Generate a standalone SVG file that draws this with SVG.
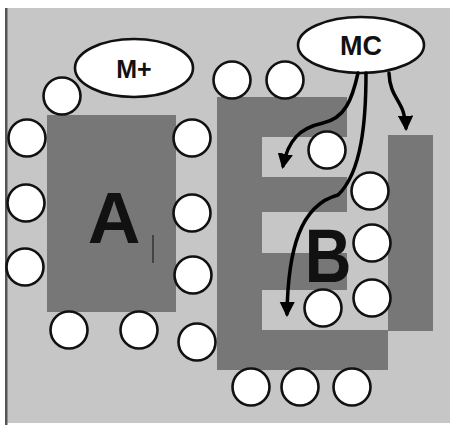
<svg xmlns="http://www.w3.org/2000/svg" width="450" height="425" viewBox="0 0 450 425">
<defs>
<style>
.bg{fill:#c6c6c6}
.blk{fill:#777777}
.c{fill:#ffffff;stroke:#111111;stroke-width:2.6}
.e{fill:#ffffff;stroke:#111111;stroke-width:2.6}
.lbl{font-family:"Liberation Sans",Arial,sans-serif;font-weight:bold;fill:#111111;text-anchor:middle}
.arr{fill:none;stroke:#000000;stroke-width:3.5;stroke-linecap:round}
</style>
<marker id="ah" viewBox="0 0 10 10" refX="8" refY="5" markerWidth="4.4" markerHeight="4.4" orient="auto" markerUnits="strokeWidth">
<path d="M0,0 L10,5 L0,10 z" fill="#000000"/>
</marker>
</defs>
<rect x="0" y="0" width="450" height="425" fill="#ffffff"/>
<rect class="bg" x="5" y="8" width="445" height="415"/>
<rect x="5" y="8" width="2.5" height="417" fill="#555555"/>

<g id="blockA">
<rect class="blk" x="47" y="115" width="129" height="197" fill="#7a7a7a"/>
<text class="lbl" x="114" y="243" font-size="73">A</text>
<line x1="153" y1="235" x2="153" y2="263" stroke="#222222" stroke-width="1.2"/>
</g>

<g id="blockB">
<path class="blk" d="M217,97 H347 V137 H262 V177 H347 V212 H262 V253 H347 V290 H262 V330 H388 V370 H217 Z"/>
<rect class="blk" x="388" y="135" width="45" height="196"/>
<text class="lbl" x="0" y="282" font-size="76" transform="translate(328,0) scale(0.85,1)">B</text>
</g>

<g id="Mplus">
<ellipse class="e" cx="134" cy="68" rx="59" ry="29"/>
<text class="lbl" x="134" y="78" font-size="25">M+</text>
</g>

<g id="MC">
<ellipse class="e" cx="361" cy="45" rx="63" ry="28"/>
<text class="lbl" x="361" y="55" font-size="27">MC</text>
</g>

<g id="circles">
<circle class="c" cx="62" cy="96" r="18.5"/>
<circle class="c" cx="27" cy="138" r="18.5"/>
<circle class="c" cx="26" cy="203" r="18.5"/>
<circle class="c" cx="25" cy="267" r="18.5"/>
<circle class="c" cx="192" cy="138" r="18.5"/>
<circle class="c" cx="192" cy="213" r="18.5"/>
<circle class="c" cx="193" cy="275" r="18.5"/>
<circle class="c" cx="69" cy="330" r="18.5"/>
<circle class="c" cx="139" cy="330" r="18.5"/>
<circle class="c" cx="197" cy="342" r="18.5"/>
<circle class="c" cx="232" cy="80" r="18.5"/>
<circle class="c" cx="285" cy="80" r="18.5"/>
<circle class="c" cx="327" cy="150" r="18.5"/>
<circle class="c" cx="370" cy="191" r="18.5"/>
<circle class="c" cx="372" cy="243" r="18.5"/>
<circle class="c" cx="372" cy="298" r="18.5"/>
<circle class="c" cx="323" cy="308" r="18.5"/>
<circle class="c" cx="251" cy="387" r="18.5"/>
<circle class="c" cx="300" cy="387" r="18.5"/>
<circle class="c" cx="352" cy="387" r="18.5"/>
</g>

<g id="connectors">
<path class="arr" marker-end="url(#ah)" d="M358,73 C352,100 345,118 323,123 C300,128 288,140 283,166"/>
<path class="arr" marker-end="url(#ah)" d="M366,73 C366,120 362,172 338,195 C300,205 288,250 287,314"/>
<path class="arr" marker-end="url(#ah)" d="M389,73 C390,100 405,100 406,128"/>
</g>
</svg>
